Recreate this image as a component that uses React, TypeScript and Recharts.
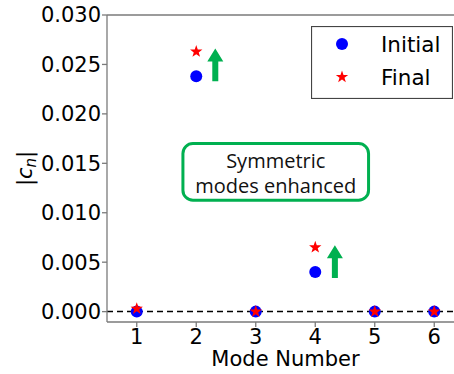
import { ComposedChart, Scatter, XAxis, YAxis, ReferenceLine, ReferenceArea, Label } from 'recharts';

// mode numbers and |c_n| values
const modes = [1, 2, 3, 4, 5, 6];
const initialValues = [0, 0.0238, 0, 0.004, 0, 0];
const finalValues = [0.0003, 0.0263, 0, 0.0065, 0, 0];
const yTicks = [0, 0.005, 0.01, 0.015, 0.02, 0.025, 0.03];

// green "enhanced" arrows (x, from, to)
const arrowX = [2.32, 4.33];
const arrowFrom = [0.0233, 0.0034];
const arrowTo = [0.0266, 0.0067];

const noteLines = ['Symmetric', 'modes enhanced'];

const initialData = modes.map((m, i) => ({ x: m, y: initialValues[i] }));
const finalData = modes.map((m, i) => ({ x: m, y: finalValues[i] }));

const FONT = '"DejaVu Sans", sans-serif';
const SPINE = '#7a7a7a';
const GREEN = '#00b050';

const starPoints = (cx: number, cy: number, R: number, r: number) => {
  const pts: string[] = [];
  for (let k = 0; k < 10; k++) {
    const rad = k % 2 === 0 ? R : r;
    const a = -Math.PI / 2 + (k * Math.PI) / 5;
    pts.push(`${cx + rad * Math.cos(a)},${cy + rad * Math.sin(a)}`);
  }
  return pts.join(' ');
};

const BlueDot = (p: any) => <circle cx={p.cx} cy={p.cy} r={6} fill="#0000ff" />;
const RedStar = (p: any) => <polygon points={starPoints(p.cx, p.cy, 6.5, 2.6)} fill="#ff0000" />;

// arrow drawn inside a thin reference area: bottom edge = tail, top edge = tip
const Arrow = (p: any) => {
  const x = p.x + p.width / 2;
  const yb = p.y + p.height;
  const yt = p.y;
  const head = 13;
  const pts = [
    [x - 3, yb], [x - 3, yt + head], [x - 8, yt + head], [x, yt],
    [x + 8, yt + head], [x + 3, yt + head], [x + 3, yb],
  ].map((q) => q.join(',')).join(' ');
  return <polygon points={pts} fill={GREEN} />;
};

const NoteBox = (p: any) => {
  const cx = p.x + p.width / 2;
  return (
    <g>
      <rect x={p.x} y={p.y} width={p.width} height={p.height} rx={10} ry={10}
        fill="#fff" stroke={GREEN} strokeWidth={3} />
      {noteLines.map((t, i) => (
        <text key={t} x={cx} y={p.y + 24 + i * 25} textAnchor="middle"
          fontFamily='"Open Sans", sans-serif' fontSize={20} fill="#111">{t}</text>
      ))}
    </g>
  );
};

const YLabel = (props: any) => {
  const vb = props.viewBox;
  const cx = vb.x + 25;
  const cy = vb.y + vb.height / 2;
  return (
    <text x={cx} y={cy + 7} transform={`rotate(-90, ${cx}, ${cy})`} textAnchor="middle"
      fontFamily={FONT} fontSize={21} fill="#000">
      <tspan>|</tspan>
      <tspan fontStyle="italic">c</tspan>
      <tspan fontStyle="italic" fontSize={15} dy={4}>n</tspan>
      <tspan dy={-4}>|</tspan>
    </text>
  );
};

const XLabel = (props: any) => {
  const vb = props.viewBox;
  return (
    <text x={vb.x + vb.width / 2} y={vb.y + 44} textAnchor="middle"
      fontFamily={FONT} fontSize={21} fill="#000">Mode Number</text>
  );
};

function LegendBox() {
  return (
    <svg width={142} height={73} style={{ position: 'absolute', left: 311, top: 26 }}>
      <rect x={0.5} y={0.5} width={141} height={72} fill="#fff" stroke="#444" strokeWidth={1.2} />
      <circle cx={31} cy={18} r={6} fill="#0000ff" />
      <polygon points={starPoints(31, 51, 6.5, 2.6)} fill="#ff0000" />
      <text x={70} y={26} fontFamily={FONT} fontSize={21.5} fill="#000">Initial</text>
      <text x={70} y={58.5} fontFamily={FONT} fontSize={21.5} fill="#000">Final</text>
    </svg>
  );
}

export default function App() {
  const tick = { fontFamily: FONT, fontSize: 21, fill: '#000' };
  return (
    <div style={{ position: 'absolute', left: 0, top: 0, width: 454, height: 374, overflow: 'hidden', background: '#fff' }}>
      <ComposedChart width={474} height={374} margin={{ top: 15, right: 10, left: 0, bottom: 0 }}>
        <XAxis dataKey="x" type="number" domain={[0.5, 6.5]} ticks={modes} interval={0}
          height={52} tick={tick} tickSize={5} tickMargin={2}
          axisLine={{ stroke: SPINE, strokeWidth: 1.3 }} tickLine={{ stroke: SPINE, strokeWidth: 1.3 }}>
          <Label content={XLabel} />
        </XAxis>
        <YAxis dataKey="y" type="number" domain={[-0.00105, 0.03]} ticks={yTicks} interval={0} allowDataOverflow
          width={107} tick={tick} tickSize={5} tickMargin={1}
          tickFormatter={(v: number) => v.toFixed(3)}
          axisLine={{ stroke: SPINE, strokeWidth: 1.3 }} tickLine={{ stroke: SPINE, strokeWidth: 1.3 }}>
          <Label content={YLabel} />
        </YAxis>
        <ReferenceLine y={0.03} stroke={SPINE} strokeWidth={1.3} />
        <ReferenceArea x1={1.776} x2={4.896} y1={0.01127} y2={0.017} shape={NoteBox} />
        {arrowX.map((x, i) => (
          <ReferenceArea key={`arrow-${i}`} x1={x - 0.05} x2={x + 0.05} y1={arrowFrom[i]} y2={arrowTo[i]} shape={Arrow} />
        ))}
        <Scatter name="Initial" data={initialData} shape={BlueDot} isAnimationActive={false} />
        <Scatter name="Final" data={finalData} shape={RedStar} isAnimationActive={false} />
        <ReferenceLine y={0} stroke="#000" strokeWidth={1.5} strokeDasharray="6 4" />
      </ComposedChart>
      <LegendBox />
    </div>
  );
}
